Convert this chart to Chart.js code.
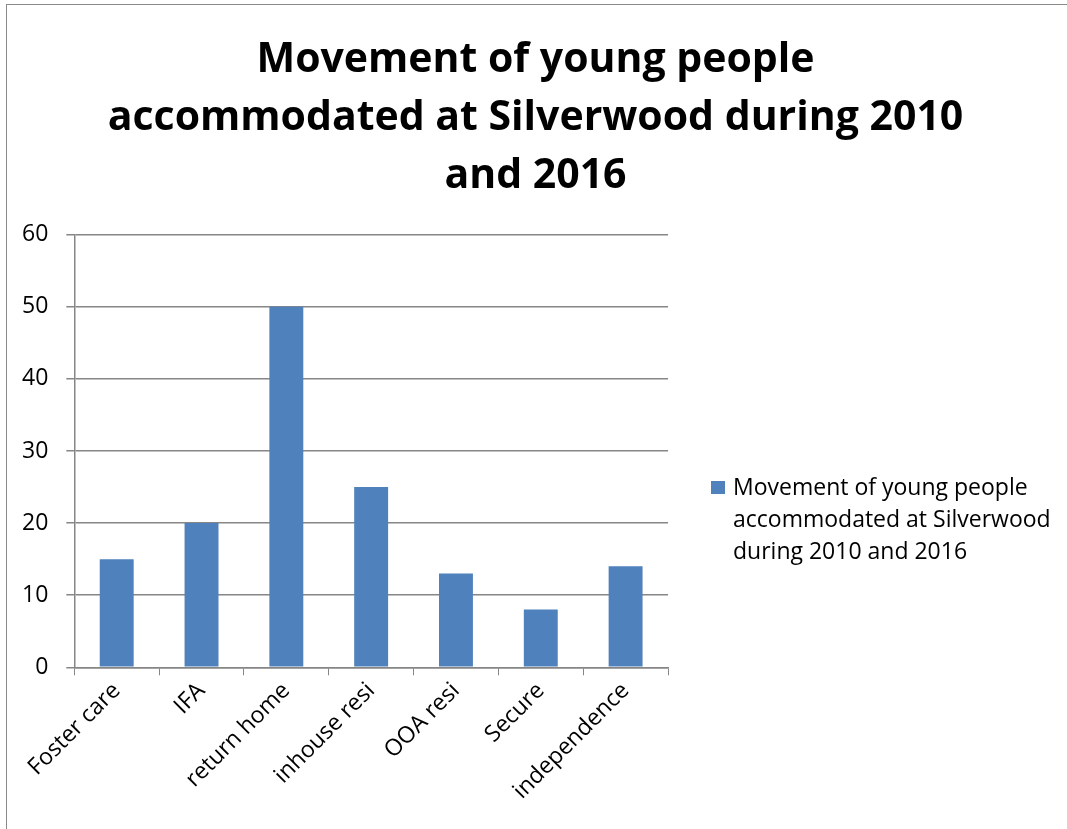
<!DOCTYPE html>
<html>
<head>
<meta charset="utf-8">
<script src="https://cdn.jsdelivr.net/npm/chart.js@4"></script>
<style>
  body { margin: 0; background: #fff; }
  #wrap { position: relative; width: 1067px; height: 829px; overflow: hidden; }
  #frame { position: absolute; left: 6px; top: 4px; width: 1100px; height: 900px; border: 1.5px solid #8a8a8a; box-sizing: border-box; }
  #chart { position: absolute; left: 0; top: 0; }
  #legend { position: absolute; left: 711px; top: 470px; font-family: 'Open Sans', sans-serif; font-size: 23px; line-height: 32px; color: #000; white-space: nowrap; }
  #legend .box { position: absolute; left: 0; top: 11px; width: 14px; height: 13px; background: #4f81bd; }
  #legend .txt { margin-left: 22px; }
</style>
</head>
<body>
<div id="wrap">
  <div id="frame"></div>
  <canvas id="chart" width="1067" height="829"></canvas>
  <div id="legend"><div class="box"></div><div class="txt">Movement of young people<br>accommodated at Silverwood<br>during 2010 and 2016</div></div>
</div>
<script>
  const categories = ['Foster care', 'IFA', 'return home', 'inhouse resi', 'OOA resi', 'Secure', 'independence'];
  const movementValues = [15, 20, 50, 25, 13, 8, 14];
  const seriesName = 'Movement of young people accommodated at Silverwood during 2010 and 2016';
  const titleLines = ['Movement of young people', 'accommodated at Silverwood during 2010', 'and 2016'];
  const yTicks = [0, 10, 20, 30, 40, 50, 60];

  const axisGray = '#868686';

  const initChart = function(){
    const ctx = document.getElementById('chart').getContext('2d');
    // eslint-disable-next-line no-undef, no-unused-vars
    const myChart = new Chart(ctx, {
      type: 'bar',
      data: {
        labels: categories,
        datasets: [
          {
            label: seriesName,
            data: movementValues,
            backgroundColor: '#4f81bd',
            borderWidth: 0,
            barPercentage: 0.5,
            categoryPercentage: 0.8,
          }
        ]
      },
      options: {
        responsive: false,
        animation: false,
        layout: {
          padding: { left: 4, right: 0, top: 26, bottom: 22 },
        },
        scales: {
          x: {
            grid: {
              drawOnChartArea: false,
              drawTicks: true,
              tickLength: 8,
              color: axisGray,
              offset: true,
            },
            border: { color: axisGray, width: 1.5 },
            ticks: {
              color: '#000',
              font: { family: 'Open Sans', size: 23 },
              maxRotation: 45,
              minRotation: 45,
              padding: 2,
            },
          },
          y: {
            min: 0,
            max: 60,
            afterBuildTicks: (axis) => {
              axis.ticks = yTicks.map(v => ({ value: v }));
            },
            grid: {
              color: axisGray,
              lineWidth: 1.5,
              tickLength: 8,
            },
            border: { color: axisGray, width: 1.5 },
            ticks: {
              color: '#000',
              font: { family: 'Open Sans', size: 23 },
              padding: 18,
            },
          },
          // empty right-hand axis that only reserves room for the legend
          legendSpace: {
            position: 'right',
            grid: { display: false },
            border: { display: false },
            ticks: { display: false },
            afterFit: (scale) => {
              scale.width = 399;
            },
          }
        },
        plugins: {
          legend: { display: false },
          tooltip: { enabled: false },
          title: {
            display: true,
            text: titleLines,
            color: '#000',
            font: { family: 'Open Sans', size: 41, weight: 'bold', lineHeight: 1.42 },
            padding: { top: 5, bottom: 29 },
          },
        },
      },
    });
  };

  initChart();
</script>
</body>
</html>
